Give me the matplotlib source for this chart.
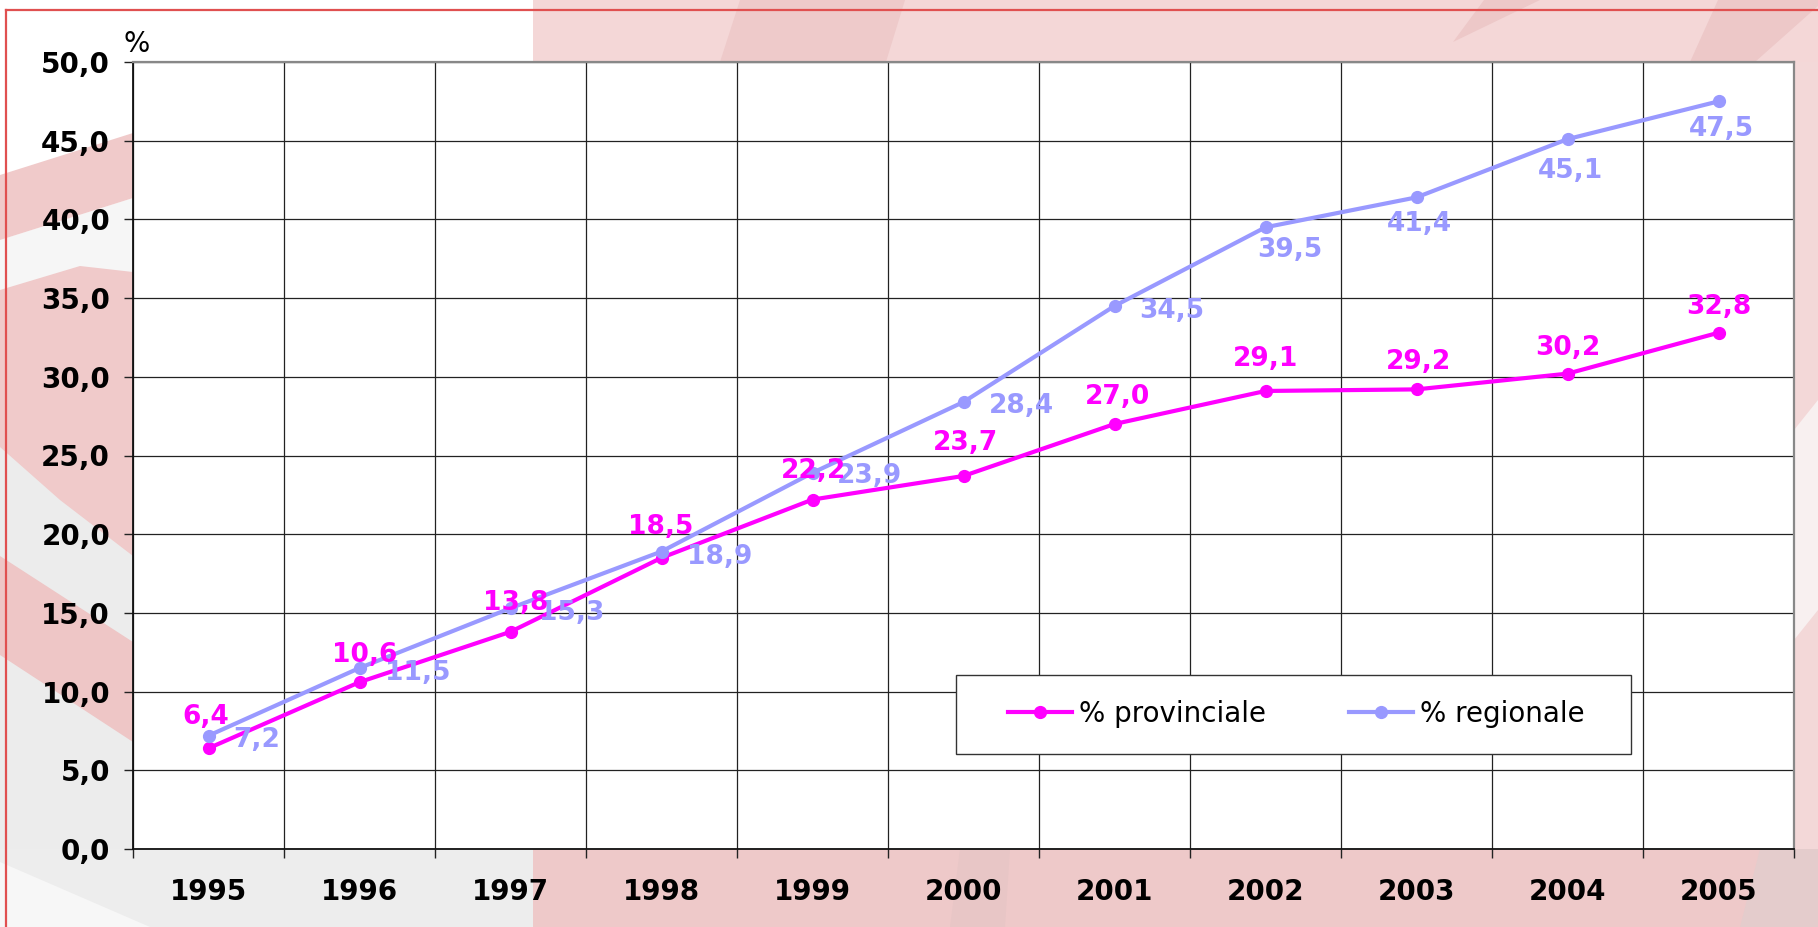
import matplotlib
matplotlib.use("Agg")
import matplotlib.pyplot as plt
from matplotlib.patches import Polygon, Rectangle
from matplotlib.lines import Line2D
import numpy as np

# ---------------- data ----------------
years = ["1995", "1996", "1997", "1998", "1999", "2000", "2001", "2002", "2003", "2004", "2005"]
provinciale = [6.4, 10.6, 13.8, 18.5, 22.2, 23.7, 27.0, 29.1, 29.2, 30.2, 32.8]
regionale = [7.2, 11.5, 15.3, 18.9, 23.9, 28.4, 34.5, 39.5, 41.4, 45.1, 47.5]
series_names = ["% provinciale", "% regionale"]
y_ticks = [0, 5, 10, 15, 20, 25, 30, 35, 40, 45, 50]

# label offsets (pixels): provinciale -> (dx centre, dy baseline above)
prov_off = [(-3, 24), (5, 20), (5, 22), (-1, 24), (1, 22), (2, 26), (3, 20), (0, 25), (2, 20), (0, 19), (0, 19)]
# regionale -> (dx left edge, dy baseline)
reg_off = [(25, -11), (25, -12), (28, -12), (26, -12), (24, -10), (25, -11), (25, -12),
           (-8, -30), (-30, -34), (-30, -39), (-30, -35)]

MAG = "#FF00FF"
BLU = "#9999FF"
W, H = 1818, 927
PX = 0.72  # points per pixel at dpi 100

fig = plt.figure(figsize=(W / 100, H / 100), dpi=100)
fig.patch.set_facecolor("white")


def F(x, y):
    return (x / W, 1 - y / H)


def poly(pts, color, z=-5):
    fig.add_artist(Polygon([F(*p) for p in pts], closed=True, transform=fig.transFigure,
                           facecolor=color, edgecolor="none", zorder=z))


# ---------------- background decoration ----------------
poly([(0, 447), (133, 447), (133, 927), (0, 927)], "#ECECEC", -6)
poly([(0, 849), (533, 849), (533, 927), (0, 927)], "#EDEDED", -6)
poly([(0, 862), (150, 927), (0, 927)], "#F7F7F7", -5.5)
poly([(0, 240), (133, 198), (133, 447), (0, 447)], "#F6F6F6", -5.8)
poly([(0, 175), (133, 133), (133, 198), (0, 240)], "#F0CACA")
poly([(0, 290), (80, 266), (133, 272), (133, 556), (60, 500), (0, 447)], "#F0CACA")
poly([(0, 556), (133, 642), (133, 742), (0, 655)], "#EEC6C6")
# top pink
poly([(533, 0), (1818, 0), (1818, 62), (533, 62)], "#F4D7D7", -6)
poly([(740, 0), (905, 0), (886, 62), (720, 62)], "#EECACA")
poly([(1484, 0), (1540, 0), (1453, 42)], "#EDC8C8")
poly([(1718, 0), (1818, 0), (1818, 6), (1755, 62), (1690, 62)], "#EDC8C8")
# right strip
poly([(1794, 62), (1818, 62), (1818, 849), (1794, 849)], "#F3D8D8", -6)
poly([(1794, 430), (1818, 400), (1818, 610), (1794, 640)], "#F8F0F0")
# bottom pink
poly([(533, 849), (1818, 849), (1818, 927), (533, 927)], "#EEC9C9", -6)
poly([(960, 849), (1010, 849), (1005, 927), (950, 927)], "#E8C6C6")
poly([(1760, 849), (1818, 849), (1818, 927), (1740, 927)], "#E4CCCC")
# red border lines
fig.add_artist(Line2D([F(6, 10)[0], 1], [F(6, 10)[1]] * 2, transform=fig.transFigure,
                      color="#E05050", lw=1.6, zorder=-1))
fig.add_artist(Line2D([F(6, 10)[0]] * 2, [F(6, 10)[1], 0], transform=fig.transFigure,
                      color="#E05050", lw=1.6, zorder=-1))

# ---------------- axes ----------------
ax = fig.add_axes([133 / W, 1 - 849 / H, (1794 - 133) / W, (849 - 62) / H])
ax.set_facecolor("white")
x = np.arange(len(years))
ax.set_xlim(-0.5, len(years) - 0.5)
ax.set_ylim(0, 50)

ax.set_yticks(y_ticks)
ax.set_yticklabels([f"{v:.1f}".replace(".", ",") for v in y_ticks],
                   fontsize=20, fontweight="bold", family="DejaVu Sans")
ax.set_xticks(x)
ax.set_xticklabels(years, fontsize=20, fontweight="bold", family="DejaVu Sans")
ax.set_xticks(np.arange(-0.5, len(years), 1.0), minor=True)
ax.tick_params(axis="x", which="major", length=0, pad=21)
ax.tick_params(axis="x", which="minor", length=6.5, width=1, direction="out", color="#222")
ax.tick_params(axis="y", which="major", length=6.5, width=1, direction="out", pad=10, color="#222")

ax.grid(True, axis="y", which="major", color="#222222", lw=0.9, zorder=0)
ax.grid(True, axis="x", which="minor", color="#222222", lw=0.9, zorder=0)
ax.set_axisbelow(True)

for s in ["left", "bottom"]:
    ax.spines[s].set_color("#111")
    ax.spines[s].set_linewidth(1.3)
for s in ["top", "right"]:
    ax.spines[s].set_color("#888")
    ax.spines[s].set_linewidth(1.6)

ax.plot(x, provinciale, color=MAG, lw=3.0, marker="o", ms=8.5, zorder=3)
ax.plot(x, regionale, color=BLU, lw=3.0, marker="o", ms=8.5, zorder=3.1)

for i, v in enumerate(regionale):
    dx, dy = reg_off[i]
    ax.annotate(f"{v:.1f}".replace(".", ","), (x[i], v), xytext=(dx * PX, dy * PX),
                textcoords="offset points", ha="left", va="baseline", color=BLU,
                fontsize=19, fontweight="bold", family="DejaVu Sans", zorder=4)
for i, v in enumerate(provinciale):
    dx, dy = prov_off[i]
    ax.annotate(f"{v:.1f}".replace(".", ","), (x[i], v), xytext=(dx * PX, dy * PX),
                textcoords="offset points", ha="center", va="baseline", color=MAG,
                fontsize=19, fontweight="bold", family="DejaVu Sans", zorder=5)

# "%" unit label
fig.text(137 / W, 1 - 44 / H, "%", ha="center", va="center", fontsize=20, family="DejaVu Sans")

# ---------------- legend ----------------
fig.add_artist(Rectangle(F(956, 754), (1631 - 956) / W, (754 - 675) / H, transform=fig.transFigure,
                         facecolor="white", edgecolor="#333", lw=1.0, zorder=1))
handles = [Line2D([], [], color=MAG, lw=3.0, marker="o", ms=8.5),
           Line2D([], [], color=BLU, lw=3.0, marker="o", ms=8.5)]
leg = fig.legend(handles, series_names, loc="center", bbox_to_anchor=F(1296, 714),
                 bbox_transform=fig.transFigure, ncol=2, frameon=False,
                 prop={"family": "DejaVu Sans", "size": 20},
                 handlelength=2.3, handletextpad=0.25, columnspacing=3.0, borderpad=0)
leg.set_zorder(2)

fig.savefig("out.png", dpi=100)
